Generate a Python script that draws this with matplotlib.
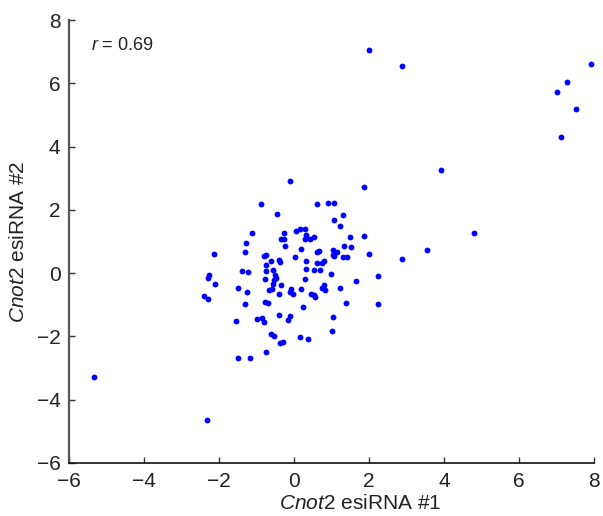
import matplotlib
matplotlib.use('Agg')
import matplotlib.pyplot as plt

plt.rcParams['font.family'] = ['Liberation Sans', 'DejaVu Sans']
plt.rcParams['mathtext.fontset'] = 'custom'
plt.rcParams['mathtext.rm'] = 'Liberation Sans'
plt.rcParams['mathtext.it'] = 'Liberation Sans:italic'

# log2 fold change, esiRNA #1 vs esiRNA #2
x = [-0.10, 1.87, -0.87, 0.63, 0.91, 1.08, -0.46, 1.30, 1.07, 1.24,
     -1.11, -0.26, 0.05, 0.16, 0.29, 0.32, -0.35, -0.27, 0.29, 0.42,
     0.55, 1.51, 1.88, -1.27, -0.24, 1.34, 1.52, -1.30, 0.18, 0.61,
     0.68, 1.05, 1.15, -2.12, 2.00, -0.79, -0.74, 1.05, 1.08, 1.30,
     1.43, 0.03, -0.62, -0.40, -0.38, 0.32, 0.61, 0.75, 0.80, -0.73,
     -1.37, -1.22, -0.74, -0.56, 0.33, 0.53, 0.70, 0.98, 2.24, -2.26,
     -2.29, -0.49, -0.48, -0.78, -0.54, 0.30, 1.66, -2.10, -0.55, -0.33,
     0.81, -1.50, -0.67, -0.58, -0.08, 0.20, 0.76, 0.83, 1.23, -1.25,
     -0.39, -0.11, -0.02, 0.45, 0.53, 0.56, -2.40, -2.28, -0.76, -0.68,
     -1.30, 1.38, 2.25, 0.24, -0.40, -0.10, -0.16, 1.05, -0.99, -0.85,
     -0.79, -1.53, 1.01, -0.62, -0.53, 0.16, 0.39, -0.36, -0.28, -0.75,
     -1.48, -1.18,
     2.01, 2.88, 7.93, 7.28, 7.01, 7.53, 7.13, 3.93, 4.80, 3.54, 2.87,
     -5.33, -2.31]
y = [2.90, 2.72, 2.19, 2.19, 2.23, 2.23, 1.86, 1.83, 1.68, 1.50,
     1.28, 1.26, 1.32, 1.40, 1.39, 1.22, 1.09, 1.09, 1.09, 1.09,
     1.14, 1.14, 1.16, 0.96, 0.85, 0.87, 0.83, 0.66, 0.75, 0.67,
     0.71, 0.74, 0.68, 0.61, 0.59, 0.55, 0.58, 0.57, 0.53, 0.50,
     0.50, 0.52, 0.38, 0.40, 0.35, 0.38, 0.31, 0.31, 0.38, 0.27,
     0.08, 0.03, 0.06, 0.10, 0.14, 0.11, 0.10, -0.02, -0.08, -0.05,
     -0.17, -0.05, -0.15, -0.19, -0.23, -0.18, -0.26, -0.34, -0.34, -0.38,
     -0.37, -0.47, -0.52, -0.49, -0.49, -0.49, -0.46, -0.54, -0.48, -0.61,
     -0.66, -0.61, -0.65, -0.66, -0.70, -0.74, -0.72, -0.82, -0.91, -0.95,
     -0.99, -0.96, -0.97, -1.08, -1.33, -1.35, -1.48, -1.40, -1.46, -1.42,
     -1.54, -1.53, -1.84, -1.94, -1.99, -2.01, -2.07, -2.22, -2.19, -2.48,
     -2.68, -2.68,
     7.04, 6.54, 6.62, 6.05, 5.73, 5.20, 4.30, 3.26, 1.26, 0.73, 0.45,
     -3.27, -4.64]

r_text = '$r$ = 0.69'
ticks = [-6, -4, -2, 0, 2, 4, 6, 8]

fig = plt.figure(figsize=(6.03, 5.16), dpi=100)
ax = fig.add_axes([0.114, 0.103, 0.871, 0.858])

ax.plot(x, y, 'o', color='#0000ff', markersize=4.2, markeredgewidth=0)

ax.set_xlim(-6, 8)
ax.set_ylim(-6, 8)
ax.set_xticks(ticks)
ax.set_yticks(ticks)
ax.set_xticklabels([str(t).replace('-', '\u2212') for t in ticks])
ax.set_yticklabels([str(t).replace('-', '\u2212') for t in ticks])
ax.tick_params(direction='in', length=4, width=1, labelsize=15,
               color='#333333', labelcolor='#222222')
ax.tick_params(axis='x', pad=6.5)
ax.tick_params(axis='y', pad=6)

for s in ['top', 'right']:
    ax.spines[s].set_visible(False)
ax.spines['left'].set_color('#555555')
ax.spines['left'].set_linewidth(1.6)
ax.spines['bottom'].set_color('#111111')
ax.spines['bottom'].set_linewidth(1.2)

ax.set_xlabel(r'$\mathit{Cnot2}$ esiRNA #1', fontsize=15, color='#222222')
ax.set_ylabel(r'$\mathit{Cnot2}$ esiRNA #2', fontsize=15, color='#222222')
ax.xaxis.set_label_coords(0.555, -0.07)
ax.yaxis.set_label_coords(-0.078, 0.5)

ax.text(-5.4, 7.2, r_text, fontsize=13, color='#222222', va='center')

fig.savefig('out.png', dpi=100)
